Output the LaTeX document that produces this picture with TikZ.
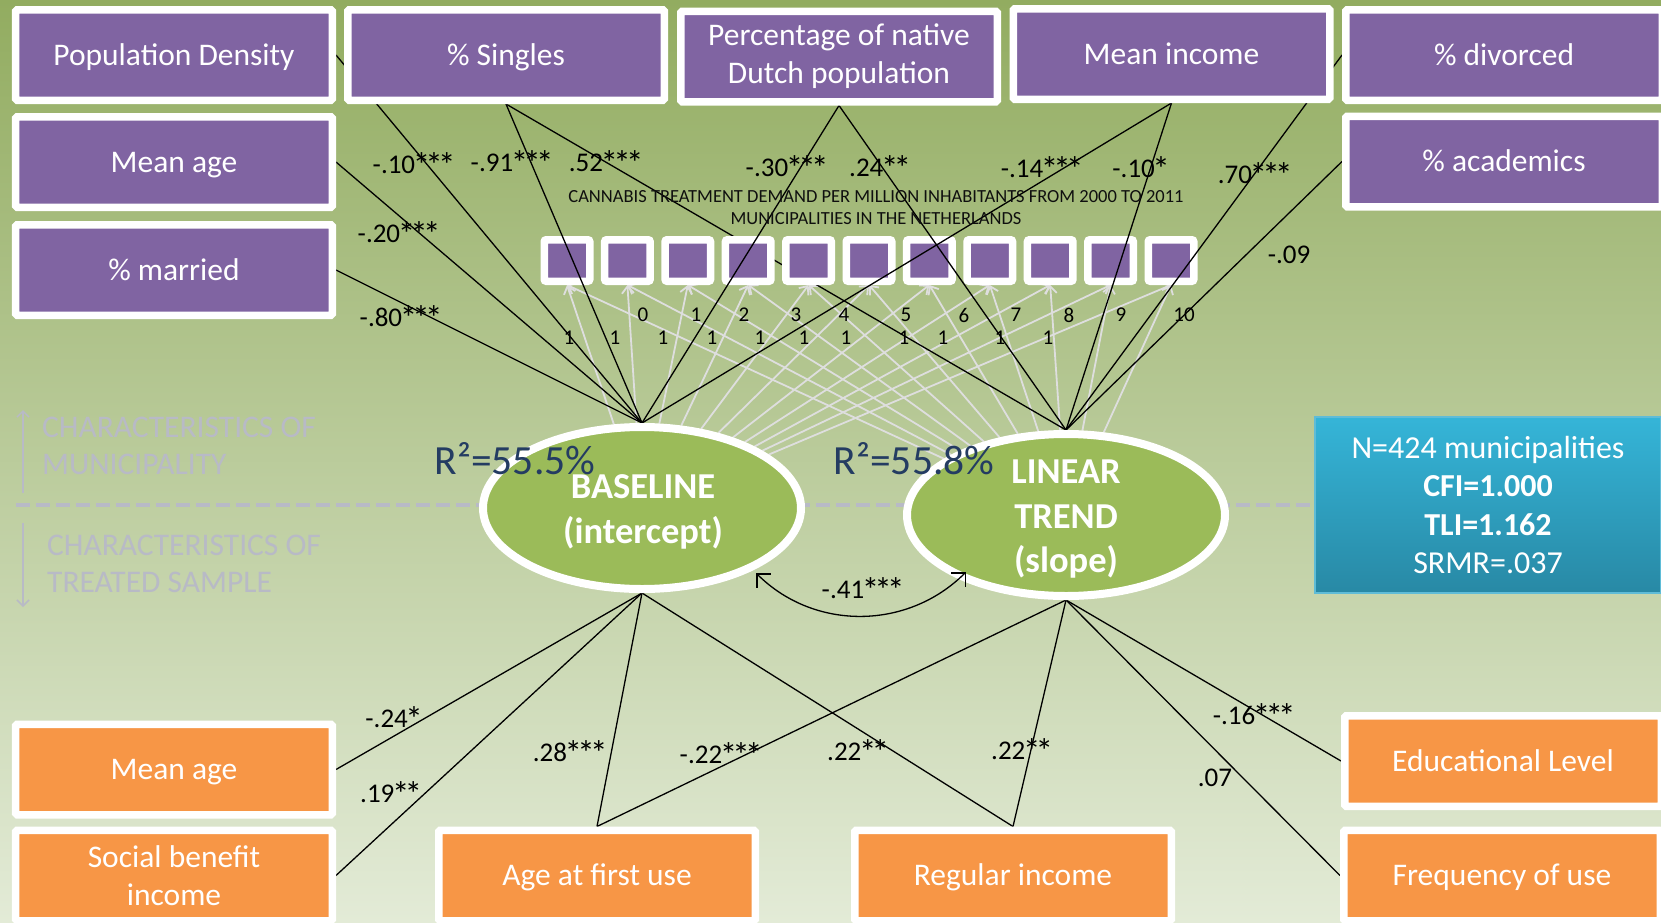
\documentclass[tikz,border=0pt]{standalone}
\usepackage{fontspec}
\setmainfont{Carlito}
\usetikzlibrary{shapes.geometric,arrows.meta}
\pgfdeclarelayer{bgl}
\pgfdeclarelayer{lnsA}
\pgfdeclarelayer{smallb}
\pgfdeclarelayer{lnsB}
\pgfsetlayers{bgl,lnsA,smallb,lnsB,main}
\definecolor{purp}{RGB}{128,100,162}
\definecolor{orng}{RGB}{247,150,70}
\definecolor{grn}{RGB}{155,187,89}
\definecolor{bgtop}{RGB}{146,172,96}
\definecolor{bgbot}{RGB}{227,235,215}
\definecolor{sidegray}{RGB}{184,186,198}
\definecolor{rblue}{RGB}{36,60,98}
\definecolor{blueT}{RGB}{53,181,216}
\definecolor{blueB}{RGB}{40,137,165}
\definecolor{blueE}{RGB}{95,188,215}
\definecolor{lgray}{RGB}{222,222,222}
\definecolor{ttlc}{RGB}{15,15,15}
\newcommand{\sstar}{\makebox[0.47em]{\raisebox{-0.16em}{\scalebox{1.3}{*}}}}
\begin{document}
\begin{tikzpicture}[x=1bp,y=-1bp,
  bigbox/.style={rectangle, draw=white, line width=7.5bp, rounded corners=1.5bp,
    minimum width=316.5bp, minimum height=90.5bp, inner sep=0pt, text=white,
    align=center, font=\fontsize{31.5bp}{38bp}\selectfont},
  pbox/.style={bigbox, fill=purp, text height=20bp, text depth=0pt},
  pboxtwo/.style={bigbox, fill=purp},
  obox/.style={bigbox, fill=orng, text height=20bp, text depth=0pt},
  oboxtwo/.style={bigbox, fill=orng},
  tbox/.style={rectangle, draw=white, line width=7.5bp, rounded corners=2bp, fill=purp,
    minimum width=45.5bp, minimum height=41.5bp, inner sep=0pt},
  latent/.style={ellipse, draw=white, line width=8bp, fill=grn, minimum width=318bp,
    minimum height=162bp, inner sep=0pt, text=white, align=center,
    font=\bfseries\fontsize{36.5bp}{44.5bp}\selectfont},
  coef/.style={font=\fontsize{27bp}{30bp}\selectfont, inner sep=0pt, text height=23bp, text depth=0pt},
  ld/.style={font=\fontsize{21bp}{24bp}\selectfont, inner sep=0pt},
  regpath/.style={draw=black, line width=1.3bp},
  load/.style={draw=lgray, line width=1.8bp, -{Straight Barb[length=7bp,width=12bp,line width=1.8bp]}},
  sidetxt/.style={anchor=west, text=sidegray, align=left, inner sep=0pt,
    font=\fontsize{31.5bp}{37bp}\selectfont},
  sidearr/.style={draw=sidegray, line width=1.5bp, -{Straight Barb[length=6bp,width=12bp,line width=1.5bp]}},
  rlab/.style={text=rblue, inner sep=0pt, font=\fontsize{41.5bp}{45bp}\selectfont},
  covpath/.style={regpath, {Straight Barb[length=10bp,width=20bp,line width=1.5bp]}-{Straight Barb[length=10bp,width=20bp,line width=1.5bp]}}
]
\useasboundingbox (0,0) rectangle (1661,922);

% ---------- main nodes ----------
\node[pbox] (pd) at (174,55) {Population Density};
\node[pbox] (sg) at (506,55) {\% Singles};
\node[pboxtwo] (nd) at (839,56.5) {Percentage of native\\Dutch population};
\node[pbox] (mi) at (1171.5,54) {Mean income};
\node[pbox] (dv) at (1504,55) {\% divorced};
\node[pbox] (ma) at (174,162) {Mean age};
\node[pbox] (ac) at (1504,161.5) {\% academics};
\node[pbox] (mr) at (174,270) {\% married};

\node[obox] (mb) at (174,769.5) {Mean age};
\node[oboxtwo] (sb) at (174,875.5) {Social benefit\\income};
\node[obox] (af) at (597,875.5) {Age at first use};
\node[obox] (ri) at (1013,875.5) {Regular income};
\node[obox] (el) at (1503,761) {Educational Level};
\node[obox] (fu) at (1502,875.5) {Frequency of use};

\node[latent] (I) at (642,508) {};
\node[latent, fill=none, draw=none] (It) at (643,512) {BASELINE\\(intercept)};
\node[latent] (S) at (1066,515) {};
\node[latent, fill=none, draw=none] (St) at (1066,519.5) {LINEAR\\TREND\\(slope)};

\node[rectangle, draw=blueE, line width=1.5bp, top color=blueT, bottom color=blueB,
  minimum width=346bp, minimum height=176bp, inner sep=0pt, text=white, align=center,
  font=\fontsize{32bp}{38.5bp}\selectfont] (info) at (1488,505)
  {N=424 municipalities\\\textbf{CFI=1.000}\\\textbf{TLI=1.162}\\SRMR=.037};

\node[rlab] (r1) at (515,459) {R²=55.5\%};
\node[rlab] (r2) at (914,459) {R²=55.8\%};

\node[align=center, text=ttlc, inner sep=0pt, font=\fontsize{18.5bp}{22bp}\selectfont] (ttl) at (876,208)
  {CANNABIS TREATMENT DEMAND PER MILLION INHABITANTS FROM 2000 TO 2011\\MUNICIPALITIES IN THE NETHERLANDS};

% ---------- small time boxes ----------
\begin{pgfonlayer}{smallb}
\foreach \i in {0,...,10} \node[tbox] (t\i) at ({567+60.4*\i},260.5) {};
\end{pgfonlayer}

% ---------- background ----------
\begin{pgfonlayer}{bgl}
\shade[top color=bgtop, bottom color=bgbot] (0,0) rectangle (1661,922);
\coordinate (dl) at (16,505);
\draw[sidegray, line width=3.5bp, dash pattern=on 14bp off 6bp] (dl) -- (info.west);
\node[sidetxt] (cm) at (42,446) {CHARACTERISTICS OF\\MUNICIPALITY};
\node[sidetxt] (ct) at (47,563.5) {CHARACTERISTICS OF\\TREATED SAMPLE};
\coordinate (ua) at (23,493); \coordinate (ub) at (23,410);
\coordinate (da) at (23,523); \coordinate (db) at (23,607);
\draw[sidearr] (ua) -- (ub);
\draw[sidearr] (da) -- (db);
\end{pgfonlayer}

% ---------- loadings + line under small boxes ----------
\begin{pgfonlayer}{lnsA}
\foreach \i in {0,...,10} {
  \draw[load] (I) -- (t\i.south);
  \draw[load] (S) -- (t\i.south);
}
\draw[regpath] (sg.south) -- (S.north);
\end{pgfonlayer}

% ---------- regression paths ----------
\begin{pgfonlayer}{lnsB}
\draw[regpath] (pd.east) -- (I.north);
\draw[regpath] (sg.south) -- (I.north);
\draw[regpath] (ma.east) -- (I.north);
\draw[regpath] (mr.east) -- (I.north);
\draw[regpath] (nd.south) -- (I.north);
\draw[regpath] (nd.south) -- (S.north);
\draw[regpath] (mi.south) -- (I.north);
\draw[regpath] (mi.south) -- (S.north);
\draw[regpath] (dv.west) -- (S.north);
\draw[regpath] (ac.west) -- (S.north);
\draw[regpath] (mb.east) -- (I.south);
\draw[regpath] (sb.east) -- (I.south);
\draw[regpath] (af.north) -- (I.south);
\draw[regpath] (af.north) -- (S.south);
\draw[regpath] (ri.north) -- (I.south);
\draw[regpath] (ri.north) -- (S.south);
\draw[regpath] (el.west) -- (S.south);
\draw[regpath] (fu.west) -- (S.south);
\end{pgfonlayer}

\coordinate (cvL) at ([xshift=114bp,yshift=-65bp]I.center);
\coordinate (cvR) at ([xshift=-100bp,yshift=-57bp]S.center);
\draw[covpath] (cvL) to[out=-45,in=-135] (cvR);

% ---------- coefficient labels ----------
\node[coef] (c1) at (413,162) {-.10\sstar\sstar\sstar};
\node[coef] (c2) at (511,160) {-.91\sstar\sstar\sstar};
\node[coef] (c3) at (605,160) {.52\sstar\sstar\sstar};
\node[coef] (c4) at (398,231) {-.20\sstar\sstar\sstar};
\node[coef] (c5) at (400,315) {-.80\sstar\sstar\sstar};
\node[coef] (c6) at (786,165) {-.30\sstar\sstar\sstar};
\node[coef] (c7) at (879,165) {.24\sstar\sstar};
\node[coef] (c8) at (1041,166) {-.14\sstar\sstar\sstar};
\node[coef] (c9) at (1140,166) {-.10\sstar};
\node[coef] (c10) at (1254,172) {.70\sstar\sstar\sstar};
\node[coef] (c11) at (1289,252) {-.09};
\node[coef] (c12) at (393,716) {-.24\sstar};
\node[coef] (c13) at (390,791) {.19\sstar\sstar};
\node[coef] (c14) at (569,750) {.28\sstar\sstar\sstar};
\node[coef] (c15) at (720,752) {-.22\sstar\sstar\sstar};
\node[coef] (c16) at (857,749) {.22\sstar\sstar};
\node[coef] (c17) at (1021,748) {.22\sstar\sstar};
\node[coef] (c18) at (1253,713) {-.16\sstar\sstar\sstar};
\node[coef] (c19) at (1215,775) {.07};
\node[coef] (c20) at (862,587) {-.41\sstar\sstar\sstar};

% ---------- loading labels ----------
\foreach \xx [count=\k from 0] in {643,696,744,796,844,906,964,1016,1069,1121,1184}
  \node[ld] (s\k) at (\xx,315) {\k};
\foreach \xx [count=\k from 0] in {569,615,663,712,760,804,846,904,943,1000,1048}
  \node[ld] (o\k) at (\xx,338) {1};
\end{tikzpicture}
\end{document}
